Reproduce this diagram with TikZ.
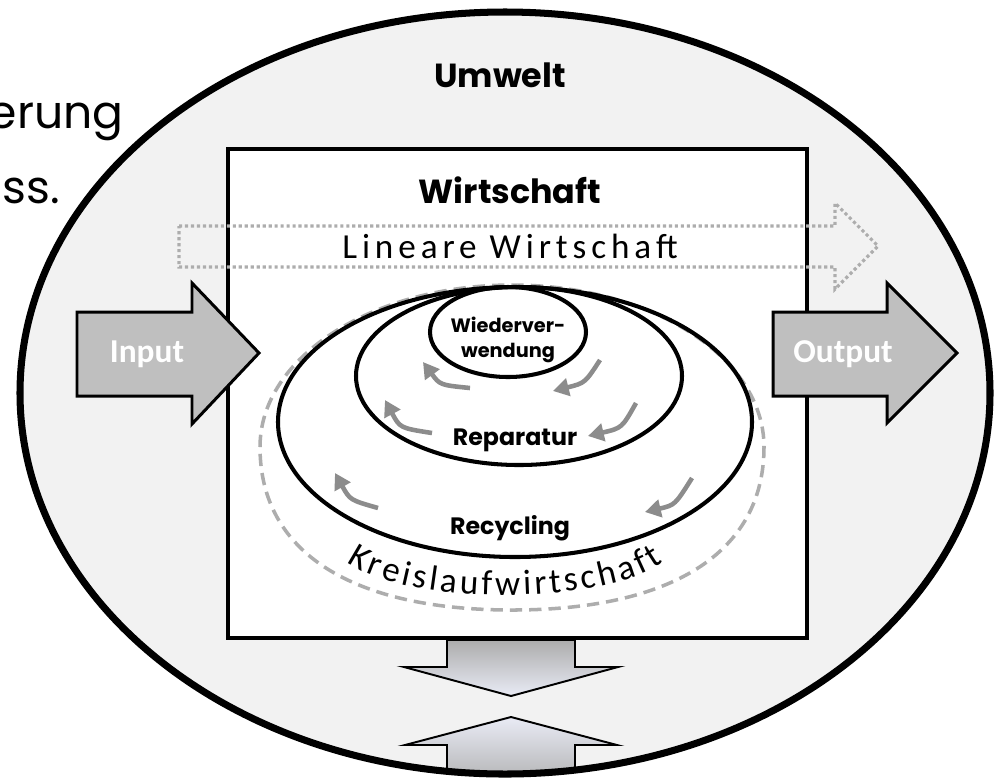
\documentclass[tikz,border=0pt]{standalone}
\usepackage{fontspec}
\usetikzlibrary{arrows.meta,decorations.text}
\newfontfamily\gothic{Poppins}
\newfontfamily\calib{Carlito}
\newfontfamily\calibwide{Carlito}[LetterSpace=14]
\definecolor{umweltgrau}{HTML}{F2F2F2}
\definecolor{pfeilgrau}{HTML}{BFBFBF}
\definecolor{kreisgrau}{HTML}{8C8C8C}
\definecolor{punktgrau}{HTML}{ADADAD}
\definecolor{kopfblau}{HTML}{E9EBF5}
\begin{document}
\begin{tikzpicture}[x=0.02cm,y=-0.02cm,
  stufe/.style={font=\gothic\bfseries\fontsize{13.5}{15.5}\selectfont, align=center, inner sep=0pt},
  titel/.style={font=\gothic\bfseries\fontsize{19}{20}\selectfont, inner sep=0pt},
  rest/.style={anchor=base east, font=\gothic\fontsize{26}{30}\selectfont, inner sep=0pt},
  block/.style={draw=black, line width=1.7pt, fill=pfeilgrau},
  blocktext/.style={font=\calib\bfseries\fontsize{19}{20}\selectfont, text=white, inner sep=0pt},
  ring/.style={draw=black, line width=2.3pt},
  fluss/.style={draw=kreisgrau, line width=2.6pt, -{Triangle[length=9pt,width=10pt]}},
  tausch/.style={draw=black, line width=1.1pt}]
\useasboundingbox (0,0) rectangle (997,779);
\node[rest] (zeile1) at (124,128) {erung};
\node[rest] (zeile2) at (60,203) {ss.};
\fill[umweltgrau] (505,393) ellipse [x radius=485, y radius=381];
\begin{scope}
\clip (505,393) ellipse [x radius=485, y radius=381];
\draw[tausch, top color=kopfblau, bottom color=gray!65] (511,717) -- (617,745) -- (575,745) -- (575,790) -- (447,790) -- (447,745) -- (405,745) -- cycle;
\end{scope}
\draw[line width=4pt] (505,393) ellipse [x radius=485, y radius=381];
\node[titel] (umwelt) at (500,75) {Umwelt};
\draw[line width=2.8pt, fill=white] (228,149) rectangle (807,638);
\draw[tausch, top color=gray!65, bottom color=kopfblau] (447,640) -- (575,640) -- (575,667) -- (618,667) -- (511,696) -- (404,667) -- (447,667) -- cycle;
\node[titel] (wirtschaft) at (510,190) {Wirtschaft};
\draw[punktgrau, line width=1.8pt, dash pattern=on 1.8pt off 1.6pt] (179,226) -- (835,226) -- (835,203) -- (878,246) -- (835,289) -- (835,267) -- (179,267) -- cycle;
\node[font=\calibwide\fontsize{20}{22}\selectfont, inner sep=0pt] (linear) at (510,246) {Lineare Wirtschaft};
\draw[block] (77,312) -- (192,312) -- (192,283) -- (259,353) -- (192,424) -- (192,396) -- (77,396) -- cycle;
\node[blocktext] (input) at (147,354) {Input};
\draw[block] (773,312) -- (887,312) -- (887,283) -- (957,353) -- (887,423) -- (887,396) -- (773,396) -- cycle;
\node[blocktext] (output) at (843,354) {Output};
\draw[punktgrau, line width=2pt, dash pattern=on 7pt off 4pt] (260,447) .. controls (260,357) and (373,285) .. (512,285) .. controls (651,285) and (764,357) .. (764,447) .. controls (764,553) and (671,610) .. (512,610) .. controls (353,610) and (260,553) .. cycle;
\draw[ring] (515,422) ellipse [x radius=237, y radius=135];
\draw[ring] (519,376) ellipse [x radius=163, y radius=89];
\draw[ring] (508,332) ellipse [x radius=78, y radius=45];
\node[stufe, font=\gothic\bfseries\fontsize{11}{14}\selectfont] (wieder) at (508,340) {Wiederver-\\wendung};
\node[stufe] (reparatur) at (515,440) {Reparatur};
\node[stufe] (recycling) at (510,528) {Recycling};
\draw[fluss] (470,388) .. controls (440,385) .. (423,362);
\draw[fluss] (600,360) .. controls (585,383) .. (553,391);
\draw[fluss] (432,433) .. controls (400,428) .. (385,400);
\draw[fluss] (636,403) .. controls (622,428) .. (588,436);
\draw[fluss] (378,508) .. controls (350,500) .. (335,473);
\draw[fluss] (692,478) .. controls (675,505) .. (645,512);
\path[decorate, decoration={text along path, text align={fit to path},
  text={|\calib\fontsize{20}{22}\selectfont|Kreislaufwirtschaft}}]
  (347,562) .. controls (405,606) and (605,606) .. (663,562);
\end{tikzpicture}
\end{document}
